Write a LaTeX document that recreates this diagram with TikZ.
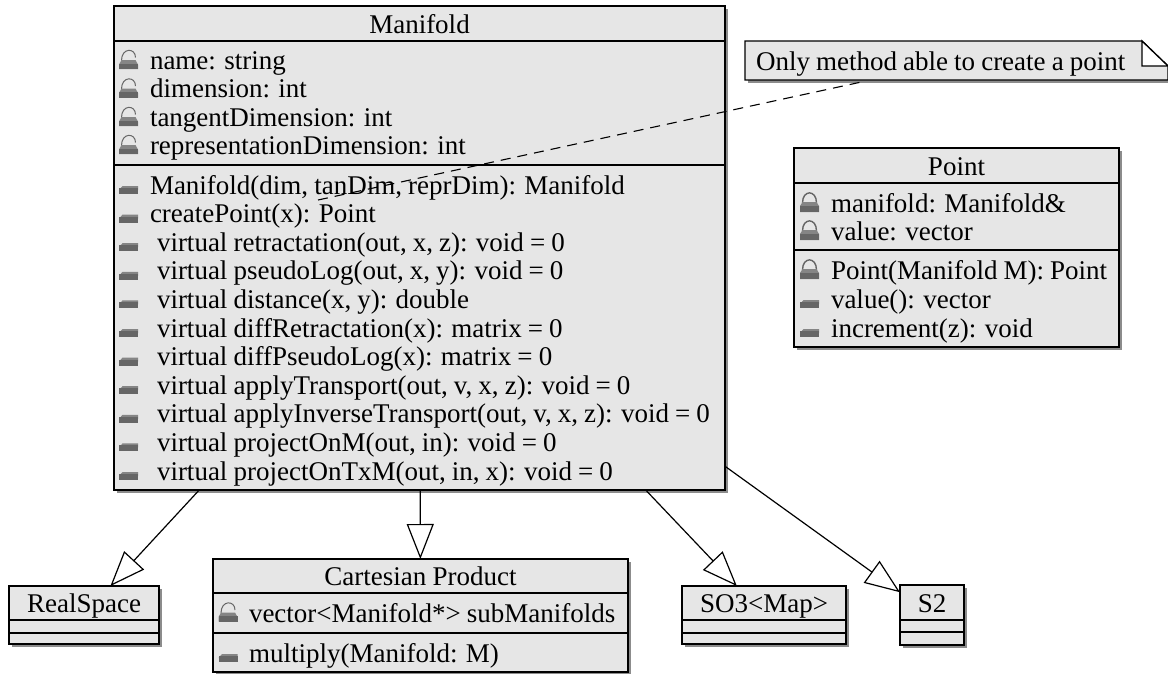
\documentclass[tikz,border=0pt]{standalone}
\usepackage{fontspec}
\setmainfont[WordSpace=0.9]{Liberation Serif}
\usetikzlibrary{arrows.meta, shadows}

\definecolor{boxgray}{HTML}{E6E6E6}
\definecolor{lockgray}{HTML}{666666}

\tikzset{
    classbox/.style={draw, fill=boxgray, line width=1.3pt, inner sep=0pt, outer sep=0pt,
        drop shadow={shadow xshift=3pt, shadow yshift=-3pt, fill=black!45, opacity=1}},
    row/.style={anchor=base west, inner sep=0pt, outer sep=0pt, font=\fontsize{27}{30}\selectfont},
    title/.style={anchor=base, inner sep=0pt, outer sep=0pt, font=\fontsize{27}{30}\selectfont},
    compartment/.style={line width=1.3pt},
    generalize/.style={line width=1.2pt, -{Triangle[length=35pt, width=27pt, fill=white, line width=1.2pt]}},
    openlock/.pic={
        \draw[line width=1pt, draw=lockgray] (-7,-4) .. controls (-7,-17) and (7,-17) .. (7,-7);
        \fill[lockgray!80] (-9.5,4.5) -- (-9.5,0) -- (-7,-4.5) -- (7,-4.5) -- (9.5,0) -- (9.5,4.5) -- cycle;
        \fill[lockgray] (-9.5,4.5) rectangle (9.5,-1);
    },
    closedlock/.pic={
        \draw[line width=1.4pt, draw=lockgray] (-7,-4) .. controls (-7,-17.5) and (7,-17.5) .. (7,-4);
        \fill[lockgray!80] (-9.5,5) -- (-9.5,-1) -- (-7,-5) -- (7,-5) -- (9.5,-1) -- (9.5,5) -- cycle;
        \fill[lockgray] (-9.5,5) rectangle (9.5,-1);
    },
    flatlock/.pic={
        \fill[lockgray!80] (-9.5,0) -- (-6,-4) -- (9.5,-4) -- (9.5,0) -- cycle;
        \fill[lockgray] (-9.5,4) rectangle (9.5,-2);
    }
}

\begin{document}
\begin{tikzpicture}[x=1pt, y=-1pt]
    \useasboundingbox (0,0) rectangle (1168,673);

    % classes
    \node[classbox, minimum width=611pt, minimum height=484pt] (manifold)  at (419.5,248) {};
    \node[classbox, minimum width=325pt, minimum height=199pt] (point)     at (956.5,247.5) {};
    \node[classbox, minimum width=150pt, minimum height=58pt]  (realspace) at (84,615) {};
    \node[classbox, minimum width=415pt, minimum height=113pt] (cartesian) at (420.5,615.5) {};
    \node[classbox, minimum width=164pt, minimum height=58pt]  (so3)       at (764,615) {};
    \node[classbox, minimum width=64pt,  minimum height=60pt]  (s2)        at (932,615) {};

    % compartments
    \draw[compartment] (manifold.west |- 0,41)   -- (manifold.east |- 0,41);
    \draw[compartment] (manifold.west |- 0,165)  -- (manifold.east |- 0,165);
    \draw[compartment] (point.west |- 0,183)     -- (point.east |- 0,183);
    \draw[compartment] (point.west |- 0,250)     -- (point.east |- 0,250);
    \draw[compartment] (realspace.west |- 0,620) -- (realspace.east |- 0,620);
    \draw[compartment] (realspace.west |- 0,633) -- (realspace.east |- 0,633);
    \draw[compartment] (cartesian.west |- 0,593) -- (cartesian.east |- 0,593);
    \draw[compartment] (cartesian.west |- 0,633) -- (cartesian.east |- 0,633);
    \draw[compartment] (so3.west |- 0,620)       -- (so3.east |- 0,620);
    \draw[compartment] (so3.west |- 0,633)       -- (so3.east |- 0,633);
    \draw[compartment] (s2.west |- 0,620)        -- (s2.east |- 0,620);
    \draw[compartment] (s2.west |- 0,632)        -- (s2.east |- 0,632);

    % titles
    \node[title] (manifoldname)  at (419.5,33)  {Manifold};
    \node[title] (pointname)     at (956.5,175) {Point};
    \node[title] (realspacename) at (84,612)    {RealSpace};
    \node[title] (cartesianname) at (420.5,585) {Cartesian Product};
    \node[title] (so3name)       at (764,612)   {SO3<Map>};
    \node[title] (s2name)        at (932,612)   {S2};

    % Manifold rows
    \foreach \i/\y/\txt in {1/69/{name: string}, 2/97.5/{dimension: int}, 3/126/{tangentDimension: int},
        4/154/{representationDimension: int}} {
        \pic at (128.5,\y-4.5) {openlock};
        \node[row] (attr\i) at (150,\y) {\txt};
    }
    \foreach \i/\y/\x/\txt in {1/194/150/{Manifold(dim, tanDim, reprDim): Manifold}, 2/222.6/150/{createPoint(x): Point},
        3/251.2/157/{virtual retractation(out, x, z): void = 0}, 4/279.8/157/{virtual pseudoLog(out, x, y): void = 0},
        5/308.4/157/{virtual distance(x, y): double}, 6/337/157/{virtual diffRetractation(x): matrix = 0},
        7/365.6/157/{virtual diffPseudoLog(x): matrix = 0}, 8/394.2/157/{virtual applyTransport(out, v, x, z): void = 0},
        9/422.8/157/{virtual applyInverseTransport(out, v, x, z): void = 0}, 10/451.4/157/{virtual projectOnM(out, in): void = 0},
        11/480/157/{virtual projectOnTxM(out, in, x): void = 0}} {
        \pic at (128.5,\y-4) {flatlock};
        \node[row] (meth\i) at (\x,\y) {\txt};
    }

    % Point rows
    \pic at (809.5,207) {closedlock};
    \node[row] (pointattr1) at (831,212) {manifold: Manifold\&};
    \pic at (809.5,235) {closedlock};
    \node[row] (pointattr2) at (831,240) {value: vector};
    \pic at (809.5,274) {closedlock};
    \node[row] (pointmeth1) at (831,279) {Point(Manifold M): Point};
    \pic at (809.5,304) {flatlock};
    \node[row] (pointmeth2) at (831,308) {value(): vector};
    \pic at (809.5,333) {flatlock};
    \node[row] (pointmeth3) at (831,337) {increment(z): void};

    % Cartesian rows
    \pic at (228,617) {openlock};
    \node[row] (cartattr) at (249,622) {vector<Manifold*> subManifolds};
    \pic at (228,658) {flatlock};
    \node[row] (cartmeth) at (249,662) {multiply(Manifold: M)};

    % note
    \fill[black!45] (748,80) rectangle (1168,83);
    \draw[line width=1.3pt, fill=boxgray] (745,41) -- (1142,41) -- (1168,66) -- (1168,80) -- (745,80) -- cycle;
    \draw[line width=1.3pt, fill=white] (1142,41) -- (1142,66) -- (1168,66) -- cycle;
    \node[row] (notetext) at (756,70) {Only method able to create a point};
    \coordinate (notelink) at (866,81);
    \coordinate (pointlink) at (318,200);

    % links
    \draw[line width=1.1pt, dash pattern=on 10pt off 7pt] (pointlink) -- (notelink);
    \path[generalize] (manifold) edge (realspace)
        (manifold) edge (cartesian)
        (manifold) edge (so3)
        (manifold) edge (s2);
\end{tikzpicture}
\end{document}
